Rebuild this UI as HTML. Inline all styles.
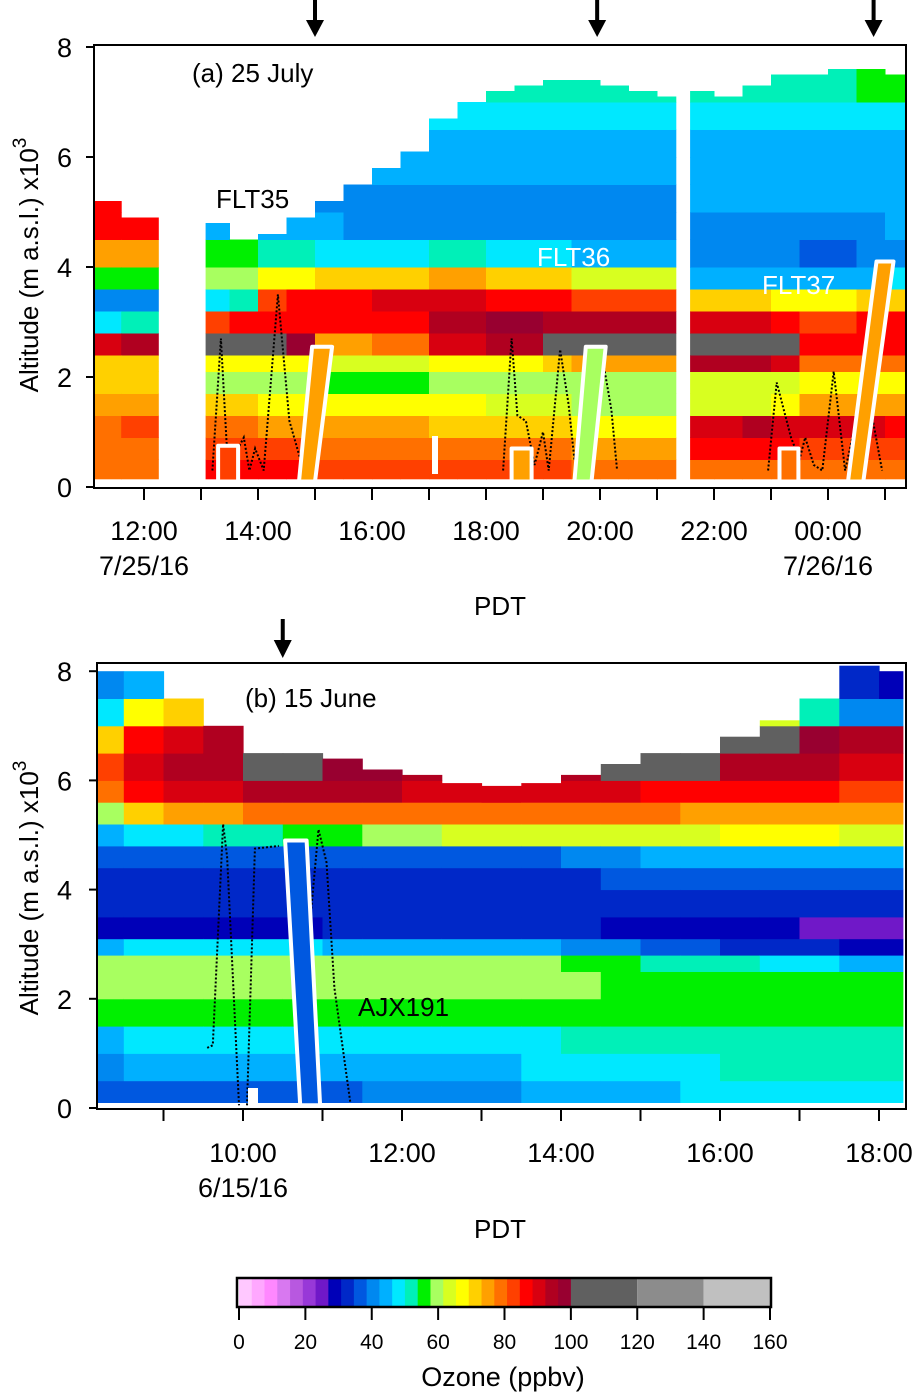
<!DOCTYPE html>
<html><head><meta charset="utf-8"><style>
html,body{margin:0;padding:0;background:#fff;}
svg{display:block;font-family:"Liberation Sans",sans-serif;}
</style></head><body>
<svg id="s" width="919" height="1393" viewBox="0 0 919 1393" xmlns="http://www.w3.org/2000/svg">
<g id="cellsA"></g>
<g id="cellsB"></g>
<g id="over"></g>
<g id="axes"></g>
</svg>
<script>
// ---------- colour scale ----------
const palette=["#ffc8ff","#ffa8ff","#ff88ff","#d878f0","#b858e0","#9838d8","#7018c8","#0000b8","#0028c8","#0058e0","#0088f0","#00b0ff","#00e8ff","#00f0b8","#00f000","#a8ff60","#d8ff20","#ffff00","#ffd000","#ffa000","#ff7000","#ff4000","#ff0000","#d80010","#b00020","#980030"];
const cbTicks=[0,20,40,60,80,100,120,140,160];
function col(v){if(v<100){let i=Math.floor(v/100*26);return palette[Math.max(0,Math.min(25,i))];}if(v<120)return"#606060";if(v<140)return"#8c8c8c";return"#c0c0c0";}

// ---------- panel a data ----------
const aColStart=[11.12,11.6,13.08,13.5,14,14.5,15,15.5,16,16.5,17,17.5,18,18.5,19,19.5,20,20.5,21,21.58,22,22.5,23,23.5,24,24.5,25];
const aColEnd=[11.6,12.25,13.5,14,14.5,15,15.5,16,16.5,17,17.5,18,18.5,19,19.5,20,20.5,21,21.33,22,22.5,23,23.5,24,24.5,25,25.35];
const aTop=[5.2,4.9,4.8,4.5,4.6,4.9,5.2,5.5,5.8,6.1,6.7,7.0,7.2,7.3,7.4,7.4,7.3,7.2,7.1,7.2,7.1,7.3,7.5,7.5,7.6,7.6,7.5];
const aEdges=[0.15,0.5,0.9,1.3,1.7,2.1,2.4,2.8,3.2,3.6,4.0,4.5,5.0,5.5,6.0,6.5,7.0,7.7];
const aVals=[
[80,80,80,76,70,72,92,48,40,55,75,85,88,0,0,0,0],
[80,80,82,75,70,72,94,50,40,56,76,86,86,0,0,0,0],
[88,84,78,70,58,66,110,84,48,58,55,44,0,0,0,0,0],
[88,84,78,70,58,66,112,86,50,60,54,44,0,0,0,0,0],
[88,84,76,68,58,66,100,88,84,66,50,44,42,0,0,0,0],
[86,82,76,68,58,66,98,88,86,68,50,43,42,0,0,0,0],
[84,80,76,66,56,62,74,86,88,72,48,43,42,45,0,0,0],
[84,80,76,66,56,62,74,86,88,72,48,42,42,45,0,0,0],
[84,78,74,66,56,64,78,88,90,72,48,42,42,44,46,0,0],
[84,78,74,66,56,64,80,88,90,72,48,42,42,44,46,0,0],
[82,78,72,66,58,68,90,96,90,76,50,42,42,43,45,48,0],
[82,78,72,66,58,68,92,96,90,76,50,42,42,43,45,48,52],
[82,78,70,64,58,68,96,98,88,72,48,42,42,43,45,48,52],
[82,78,70,64,58,68,96,98,88,72,48,42,42,43,45,48,52],
[82,78,70,64,58,70,100,96,86,70,48,42,42,43,45,48,52],
[80,76,66,60,58,74,108,94,82,62,46,42,42,43,45,48,52],
[80,76,66,60,58,76,110,94,82,62,46,42,42,43,45,48,52],
[80,76,66,60,58,76,112,94,82,62,46,42,42,43,45,48,52],
[80,76,66,60,58,76,112,94,82,62,46,42,42,43,45,48,52],
[80,86,92,64,62,94,112,90,70,46,40,42,44,45,46,48,52],
[80,86,92,64,62,96,114,90,70,46,40,42,44,45,46,48,52],
[80,88,94,64,62,96,110,90,70,46,40,42,44,45,46,48,52],
[80,88,92,68,64,90,100,88,68,44,39,42,44,45,46,48,52],
[78,84,90,74,68,80,88,84,68,44,38,42,44,45,46,48,52],
[78,84,90,74,68,80,88,84,68,44,38,42,44,45,46,48,52],
[78,84,90,74,68,80,88,85,70,46,40,42,44,45,46,48,54],
[78,84,88,74,68,80,88,86,72,48,42,43,44,45,46,48,54]];

// ---------- panel b data ----------
const bColStart=[8.16,8.5,9,9.5,10,10.5,11,11.5,12,12.5,13,13.5,14,14.5,15,15.5,16,16.5,17,17.5,18];
const bColEnd=[8.5,9,9.5,10,10.5,11,11.5,12,12.5,13,13.5,14,14.5,15,15.5,16,16.5,17,17.5,18,18.3];
const bTop=[8.0,8.0,7.7,7.2,6.9,6.6,6.4,6.2,6.1,5.95,5.9,5.95,6.1,6.3,6.5,6.6,6.8,7.1,7.6,8.1,8.0];
const bEdges=[0.1,0.5,1.0,1.5,2.0,2.5,2.8,3.1,3.5,4.0,4.4,4.8,5.2,5.6,6.0,6.5,7.0,7.5,8.1];
const bVals=[
[36,42,46,55,60,61,46,30,34,34,38,46,60,78,82,70,48,42],
[36,44,47,55,60,61,48,27,32,33,36,48,72,88,92,86,66,44],
[36,44,47,55,60,61,48,27,32,33,36,48,74,90,94,90,72,0],
[36,44,47,55,60,61,48,27,32,33,36,50,76,92,96,94,0,0],
[36,44,47,55,60,61,48,28,32,33,36,52,78,94,100,0,0,0],
[37,45,47,55,60,61,47,30,32,33,36,54,80,94,106,0,0,0],
[38,45,48,55,60,60,46,32,32,33,37,56,80,94,98,0,0,0],
[40,46,48,55,60,60,46,32,32,33,37,58,80,94,98,0,0,0],
[42,46,48,55,60,58,45,33,32,33,38,60,78,92,96,0,0,0],
[42,46,48,55,60,58,45,33,32,33,38,62,78,92,0,0,0,0],
[42,46,48,55,60,58,45,33,32,33,38,62,78,92,0,0,0,0],
[44,47,49,55,60,58,44,32,32,33,38,62,78,92,0,0,0,0],
[44,47,50,55,58,56,42,31,32,34,40,62,78,90,96,0,0,0],
[46,48,50,55,56,54,40,30,32,35,42,62,78,90,100,0,0,0],
[46,48,51,55,56,52,38,28,32,36,44,64,78,88,106,0,0,0],
[48,49,52,55,55,50,36,28,32,37,45,64,76,88,108,0,0,0],
[48,50,52,55,55,50,34,27,32,38,46,66,76,86,96,104,0,0],
[48,50,52,55,55,48,32,27,32,38,46,66,76,86,94,100,65,0],
[48,50,52,55,55,48,32,26,32,38,46,66,76,86,94,98,50,0],
[48,50,52,55,55,46,30,25,32,38,46,64,74,84,92,96,40,32],
[48,50,52,55,55,46,30,25,32,38,46,64,74,84,92,96,40,30]];

// ---------- overlays data ----------
const trackA1T=[13.2,13.35,13.45,13.6,13.75,13.85,13.95,14.1,14.35,14.55,14.8];
const trackA1Z=[0.3,2.7,0.8,0.6,0.9,0.3,0.7,0.3,3.5,1.2,0.3];
const trackA2T=[18.3,18.45,18.55,18.7,18.85,19.0,19.1,19.3,19.45,19.55,20.05,20.2,20.3];
const trackA2Z=[0.3,2.7,1.3,1.2,0.4,1.0,0.3,2.5,1.5,0.5,2.3,1.4,0.3];
const trackA3T=[22.95,23.1,23.35,23.5,23.6,23.75,23.9,24.1,24.3,24.45,24.7,24.95];
const trackA3Z=[0.3,1.9,0.9,0.5,0.9,0.4,0.3,2.1,0.3,1.0,1.7,0.3];
const trackB1T=[9.55,9.62,9.75,9.8,9.95];
const trackB1Z=[1.1,1.15,5.2,4.6,0.05];
const trackB2T=[10.05,10.15,10.45];
const trackB2Z=[0.05,4.75,4.8];
const trackB3T=[10.75,10.95,11.05,11.15,11.35];
const trackB3Z=[1.9,5.1,4.5,2.2,0.1];

const NS="http://www.w3.org/2000/svg";
function mk(tag,attrs,parent){const e=document.createElementNS(NS,tag);for(const k in attrs)e.setAttribute(k,attrs[k]);(parent||document.getElementById('axes')).appendChild(e);return e;}
const xA=t=>144+(t-12)*57, yA=z=>487-z*55;
const xB=t=>243+(t-10)*79.5, yB=z=>1108-z*54.6;

function heat(gid,cs,ce,tops,edges,vals,xf,yf,nm){
  const g=document.getElementById(gid);
  for(let c=0;c<cs.length;c++){
    for(let r=0;r<edges.length-1;r++){
      const z0=edges[r]; if(z0>=tops[c])break;
      const z1=Math.min(edges[r+1],tops[c]);
      const v=vals[c][r]; if(!v)continue;
      const x0=xf(cs[c]),x1=xf(ce[c]);
      const e=mk('rect',{x:x0.toFixed(1),y:yf(z1).toFixed(1),width:(x1-x0+0.5).toFixed(1),height:(yf(z0)-yf(z1)+0.5).toFixed(1),fill:col(v)},g);
      
      
    }
  }
}
heat('cellsA',aColStart,aColEnd,aTop,aEdges,aVals,xA,yA,'ozone-cell-a');
heat('cellsB',bColStart,bColEnd,bTop,bEdges,bVals,xB,yB,'ozone-cell-b');

const ov=document.getElementById('over');
function track(T,Z,xf,yf){const p=T.map((t,i)=>xf(t).toFixed(1)+','+yf(Z[i]).toFixed(1)).join(' ');
  const e=mk('polyline',{points:p,fill:'none',stroke:'#000','stroke-width':2,'stroke-dasharray':'2,2'},ov);
  
  }
track(trackA1T,trackA1Z,xA,yA);track(trackA2T,trackA2Z,xA,yA);track(trackA3T,trackA3Z,xA,yA);
track(trackB1T,trackB1Z,xB,yB);track(trackB2T,trackB2Z,xB,yB);track(trackB3T,trackB3Z,xB,yB);

const boxesA=[[13.3,13.65,13.3,13.65,0.1,0.75,'#ff4000'],[14.72,15.0,14.95,15.3,0.1,2.55,'#ffa000'],
[18.45,18.8,18.45,18.8,0.1,0.7,'#ffa000'],[19.55,19.85,19.75,20.1,0.1,2.55,'#a8ff60'],
[23.15,23.48,23.15,23.48,0.1,0.7,'#ff7000'],[24.35,24.62,24.85,25.15,0.1,4.1,'#ffa000']];
const boxesB=[[10.72,10.97,10.53,10.8,0.05,4.9,'#0058e0']];
function box(b,xf,yf){const p=[[b[0],b[4]],[b[1],b[4]],[b[3],b[5]],[b[2],b[5]]].map(q=>xf(q[0]).toFixed(1)+','+yf(q[1]).toFixed(1)).join(' ');
  const e=mk('polygon',{points:p,fill:b[6],stroke:'#fff','stroke-width':4,'stroke-linejoin':'round'},ov);
  
  }
boxesA.forEach(b=>box(b,xA,yA));boxesB.forEach(b=>box(b,xB,yB));
mk('rect',{x:432,y:436,width:6,height:38,fill:'#fff',},ov);
mk('rect',{x:248,y:1088,width:10,height:16,fill:'#fff',},ov);

// ---------- axes ----------
const ax=document.getElementById('axes');
function txt(x,y,s,size,anchor,fill,nm){const e=mk('text',{x:x,y:y,'font-size':size,'text-anchor':anchor||'middle',fill:fill||'#000'},ax);e.textContent=s;return e;}
mk('rect',{x:94,y:45,width:812,height:443,fill:'none',stroke:'#000','stroke-width':2,});
mk('rect',{x:97,y:663,width:809,height:446,fill:'none',stroke:'#000','stroke-width':2,});
const yTicks=[0,2,4,6,8];
const aXTicks=[12,14,16,18,20,22,24];
const aXLabels=["12:00","14:00","16:00","18:00","20:00","22:00","00:00"];
const bXTicks=[10,12,14,16,18];
const bXLabels=["10:00","12:00","14:00","16:00","18:00"];
yTicks.forEach(z=>{mk('line',{x1:86,x2:94,y1:yA(z),y2:yA(z),stroke:'#000','stroke-width':2,});txt(72,yA(z)+10,String(z),27,'end','#000','y-tick-label-a');
 mk('line',{x1:89,x2:97,y1:yB(z),y2:yB(z),stroke:'#000','stroke-width':2,});txt(72,yB(z)+10,String(z),27,'end','#000','y-tick-label-b');});
for(let h=12;h<=25;h++){const x=xA(h);if(x<94||x>906)continue;mk('line',{x1:x,x2:x,y1:488,y2:500,stroke:'#000','stroke-width':2,});}
for(let h=9;h<=18;h++){const x=xB(h);mk('line',{x1:x,x2:x,y1:1109,y2:1121,stroke:'#000','stroke-width':2,});}
aXTicks.forEach((t,i)=>txt(xA(t),540,aXLabels[i],27,'middle','#000','x-tick-label-a'));
bXTicks.forEach((t,i)=>txt(xB(t),1162,bXLabels[i],27,'middle','#000','x-tick-label-b'));
txt(xA(12),575,"7/25/16",27,'middle','#000','date-label-a1');
txt(xA(24),575,"7/26/16",27,'middle','#000','date-label-a2');
txt(xB(10),1197,"6/15/16",27,'middle','#000','date-label-b');
txt(500,615,"PDT",26,'middle','#000','x-axis-title-a');
txt(500,1238,"PDT",26,'middle','#000','x-axis-title-b');
[[265,'y-axis-title-a'],[888,'y-axis-title-b']].forEach(([cy,nm])=>{const e=mk('text',{x:0,y:0,'font-size':26,'text-anchor':'middle',transform:`translate(38,${cy}) rotate(-90)`},ax);
 e.innerHTML='Altitude (m a.s.l.) x10<tspan dy="-12" font-size="19">3</tspan>';});
txt(192,82,"(a) 25 July",26,'start','#000','panel-a-title');
txt(245,707,"(b) 15 June",26,'start','#000','panel-b-title');
txt(216,208,"FLT35",26,'start','#000','flt35-label');
txt(537,266,"FLT36",26,'start','#fff','flt36-label');
txt(762,294,"FLT37",26,'start','#fff','flt37-label');
txt(358,1016,"AJX191",26,'start','#000','ajx191-label');
const arrowT=[15.0,19.95,24.8];
arrowT.forEach(t=>{const x=xA(t);mk('line',{x1:x,x2:x,y1:0,y2:24,stroke:'#000','stroke-width':4,});mk('polygon',{points:`${x-9},20 ${x+9},20 ${x},37`,fill:'#000',});});
{const x=xB(10.5);mk('line',{x1:x,x2:x,y1:619,y2:644,stroke:'#000','stroke-width':4,});mk('polygon',{points:`${x-9},640 ${x+9},640 ${x},658`,fill:'#000',});}
const cbx=v=>239+v*(770-239)/160;
const cbG=mk('g',{});
palette.forEach((c,i)=>{const e=mk('rect',{x:cbx(i*100/26),y:1279,width:(cbx(100/26)-cbx(0)+0.5),height:27,fill:c},cbG);});
[[100,'#606060'],[120,'#8c8c8c'],[140,'#c0c0c0']].forEach(([v,c])=>{const e=mk('rect',{x:cbx(v),y:1279,width:cbx(v+20)-cbx(v),height:27,fill:c},cbG);});
mk('rect',{x:237,y:1278,width:534,height:29,fill:'none',stroke:'#000','stroke-width':2.5},cbG);
cbTicks.forEach(v=>{mk('line',{x1:cbx(v),x2:cbx(v),y1:1307,y2:1320,stroke:'#000','stroke-width':2},cbG);txt(cbx(v),1349,String(v),21,'middle','#000','colorbar-tick-label');});
txt(503,1386,"Ozone (ppbv)",27,'middle','#000','colorbar-title');
</script>
</body></html>
